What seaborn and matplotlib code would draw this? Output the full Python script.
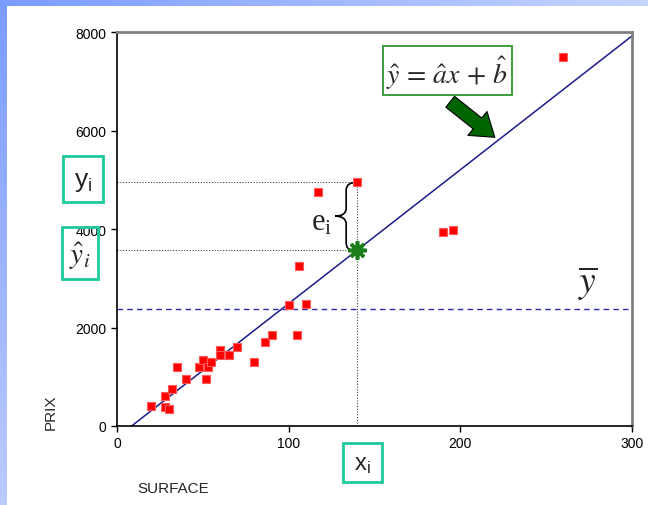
import numpy as np
import pandas as pd
import seaborn as sns
import matplotlib.pyplot as plt
from matplotlib.path import Path
from matplotlib.patches import PathPatch, Rectangle, FancyArrowPatch

# données
surface = [20, 28, 28, 30, 32, 35, 40, 48, 50, 53, 52, 55, 60, 60, 65, 70,
           80, 86, 90, 100, 105, 110, 106, 117, 140, 190, 196, 260]
prix = [400, 600, 380, 350, 750, 1200, 950, 1200, 1350, 1200, 950, 1300, 1550, 1450, 1450, 1600,
        1300, 1700, 1850, 2450, 1850, 2480, 3250, 4750, 4950, 3930, 3980, 7500]

a_hat = 27.17       # pente de la droite
b_hat = -231        # ordonnée à l'origine
y_bar = 2380        # moyenne des prix
x_i, y_i = 140, 4950

df = pd.DataFrame({'SURFACE': surface, 'PRIX': prix})

sns.set_style('ticks')
plt.rcParams['font.family'] = ['Liberation Sans', 'DejaVu Sans']
plt.rcParams['mathtext.fontset'] = 'stix'

W, H = 648, 506
fig = plt.figure(figsize=(W / 100, H / 100), dpi=100)


def px(x, y):
    return (x / W, 1 - y / H)


# fond : bandes bleues en dégradé
top = fig.add_axes([0, 1 - 7 / H, 1, 7 / H])
top.imshow(np.linspace(0, 1, 256)[None, :], aspect='auto',
           cmap=sns.blend_palette(['#7b9cff', '#c6d4ff'], as_cmap=True))
top.axis('off')
left = fig.add_axes([0, 0, 7 / W, 1])
left.imshow(np.linspace(0, 1, 256)[:, None], aspect='auto',
            cmap=sns.blend_palette(['#7b9cff', '#bccbff'], as_cmap=True))
left.axis('off')

ax = fig.add_axes([117 / W, 79 / H, 515 / W, 394 / H])

# droite de régression
x0 = -b_hat / a_hat
line = pd.DataFrame({'x': [x0, 300], 'y': [0, a_hat * 300 + b_hat]})
sns.lineplot(data=line, x='x', y='y', color='#1c1c8c', linewidth=1.1, ax=ax)

# moyenne
ax.axhline(y_bar, color='#2a2ab0', linestyle=(0, (4, 3)), linewidth=1)

# pointillés pour le point i
y_hat_i = a_hat * x_i + b_hat
ax.plot([0, x_i], [y_i, y_i], color='#444444', linestyle=(0, (1, 1.5)), linewidth=0.8)
ax.plot([0, x_i], [y_hat_i, y_hat_i], color='#444444', linestyle=(0, (1, 1.5)), linewidth=0.8)
ax.plot([x_i, x_i], [0, y_i], color='#444444', linestyle=(0, (1, 1.5)), linewidth=0.8)

sns.scatterplot(data=df, x='SURFACE', y='PRIX', marker='s', color='#ff0000',
                edgecolor='#ff5a5a', linewidth=0.8, s=38, ax=ax, zorder=5)

# point estimé
ax.plot([x_i], [y_hat_i], marker=(8, 2, 0), markersize=13, markeredgewidth=2.6,
        color='#1a7d1a', zorder=6, linestyle='none')

# accolade e_i
xs, xe, xt, d = 133.5, 140, 127, 160
ym = (y_i + y_hat_i) / 2
verts = [(xe, y_i), (xs, y_i), (xs, y_i - d),
         (xs, ym + d), (xs, ym), (xt, ym),
         (xs, ym), (xs, ym - d),
         (xs, y_hat_i + d), (xs, y_hat_i), (xe - 3, y_hat_i)]
codes = [Path.MOVETO, Path.CURVE3, Path.CURVE3,
         Path.LINETO, Path.CURVE3, Path.CURVE3,
         Path.CURVE3, Path.CURVE3,
         Path.LINETO, Path.CURVE3, Path.CURVE3]
ax.add_patch(PathPatch(Path(verts, codes), facecolor='none', edgecolor='black', linewidth=1.2, zorder=4))
ax.text(119, 4150, r'$\mathregular{e_i}$', fontsize=22, family='Liberation Serif',
        ha='center', va='center')

ax.set_xlim(0, 300)
ax.set_ylim(0, 8000)
ax.set_xticks([0, 100, 200, 300])
ax.set_yticks([0, 2000, 4000, 6000, 8000])
ax.tick_params(labelsize=10, length=4, width=1, direction='out', colors='black')
ax.set_xlabel('')
ax.set_ylabel('')
for s in ['left', 'bottom']:
    ax.spines[s].set_color('black')
    ax.spines[s].set_linewidth(1.2)
for s in ['top', 'right']:
    ax.spines[s].set_visible(True)
    ax.spines[s].set_color('#808080')
    ax.spines[s].set_linewidth(2)

# titres des axes
fig.text(*px(173, 489), 'SURFACE', fontsize=11, ha='center', va='center')
fig.text(*px(51, 412), 'PRIX', fontsize=11, rotation=90, ha='center', va='center')

# cadres
teal = '#1ec99c'
for (x1, y1, x2, y2) in [(63, 157, 103, 203), (62, 228, 98, 280), (343, 444, 382, 483)]:
    fig.patches.append(Rectangle(px(x1, y2), (x2 - x1) / W, (y2 - y1) / H, transform=fig.transFigure,
                                 facecolor='none', edgecolor=teal, linewidth=2))
fig.text(*px(83, 182), r'$\mathregular{y_i}$', fontsize=19, ha='center', va='center')
fig.text(*px(80, 256), r'$\hat{y}_i$', fontsize=21, ha='center', va='center')
fig.text(*px(362, 465), r'$\mathregular{x_i}$', fontsize=17, ha='center', va='center')

# équation
fig.patches.append(Rectangle(px(383, 96), 129 / W, 49 / H, transform=fig.transFigure,
                             facecolor='white', edgecolor='#3c9c3c', linewidth=1.4))
fig.text(*px(447, 73), r'$\hat{y}\,=\,\hat{a}x\,+\,\hat{b}$', fontsize=20, ha='center', va='center')
fig.patches.append(FancyArrowPatch(px(448, 101), px(497, 140), transform=fig.transFigure,
                                   arrowstyle='simple,head_width=2.2,head_length=1.6,tail_width=1.0',
                                   mutation_scale=10, facecolor='#006400', edgecolor='black', linewidth=0.8))

# y barre
fig.text(*px(588, 284), r'$\overline{y}$', fontsize=27, ha='center', va='center')

plt.savefig('out.png', dpi=100)
